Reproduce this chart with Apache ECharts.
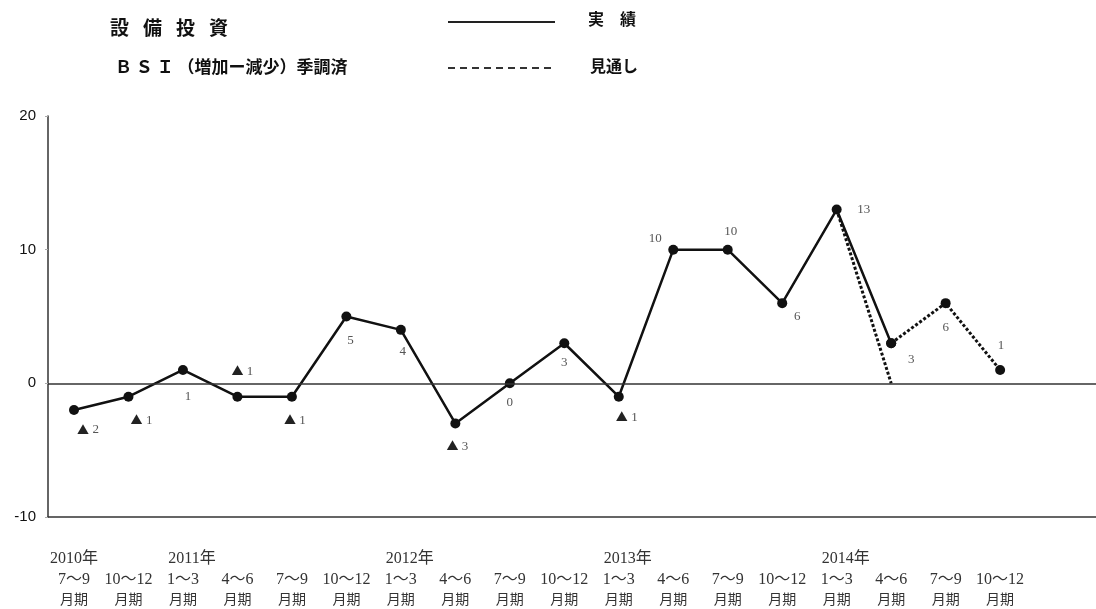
<!DOCTYPE html>
<html>
<head>
<meta charset="utf-8">
<script src="https://cdn.jsdelivr.net/npm/echarts@6/dist/echarts.min.js"></script>
<style>
  html, body { margin: 0; padding: 0; background: #fff; }
  #chart { width: 1096px; height: 609px; }
</style>
</head>
<body>
<div id="chart"></div>
<script>
// 設備投資 BSI（増加ー減少）季調済 — quarterly survey results
const yearMarks = ['2010年', '', '2011年', '', '', '', '2012年', '', '', '', '2013年', '', '', '', '2014年', '', '', ''];
const periods = ['7〜9', '10〜12', '1〜3', '4〜6', '7〜9', '10〜12', '1〜3', '4〜6', '7〜9', '10〜12',
                 '1〜3', '4〜6', '7〜9', '10〜12', '1〜3', '4〜6', '7〜9', '10〜12'];
const periodUnit = '月期';

// 実績 (actual)
const actual = [-2, -1, 1, -1, -1, 5, 4, -3, 0, 3, -1, 10, 10, 6, 13, 3, null, null];
// 見通し made in the previous survey (2014 1〜3 → 4〜6)
const prevOutlook = [null, null, null, null, null, null, null, null, null, null, null, null, null, null, 13, 0, null, null];
// 見通し (outlook from the latest survey)
const outlook = [null, null, null, null, null, null, null, null, null, null, null, null, null, null, null, 3, 6, 1];

const yMin = -10, yMax = 20, yStep = 10;

// where each value label sits relative to its point [dx, dy]
const actualLabelOffset = [
  [14, 20], [13, 24], [5, 27], [5, -25], [3, 24], [4, 24], [2, 22], [2, 23], [0, 19],
  [0, 19], [8, 21], [-18, -11], [3, -18], [15, 13], [27, 0], [20, 16], [0, 0], [0, 0]
];
const outlookLabelOffset = { 16: [0, 24], 17: [1, -24] };

const serifFont = '"Liberation Serif", "DejaVu Serif", "Noto Sans CJK JP", serif';
const gothicFont = '"Noto Sans CJK JP", sans-serif';

function valueLabel(v) {
  if (v < 0) return '{t|▲} {n|' + Math.abs(v) + '}';
  return '{n|' + v + '}';
}

const labelRich = {
  t: { fontSize: 12, color: '#222', fontFamily: gothicFont },
  n: { fontSize: 13, color: '#555', fontFamily: serifFont }
};

function pointsFrom(arr, offsets) {
  const out = [];
  arr.forEach((v, i) => {
    if (v === null) return;
    const item = { value: [i, v] };
    const off = offsets ? offsets[i] : null;
    if (off) {
      item.label = { show: true, offset: off };
    } else {
      item.label = { show: false };
    }
    out.push(item);
  });
  return out;
}

const chart = echarts.init(document.getElementById('chart'), null, { renderer: 'canvas' });

const option = {
  backgroundColor: '#fff',
  animation: false,
  grid: { left: 48, right: 0, top: 116, bottom: 92, containLabel: false },
  xAxis: {
    type: 'value',
    min: -0.477,
    max: 18.76,
    splitLine: { show: false },
    axisLine: { show: true, onZero: false, lineStyle: { color: '#333', width: 1.5 } },
    axisTick: { show: false },
    axisLabel: {
      show: true,
      customValues: periods.map((_, i) => i),
      margin: 31,
      formatter: function (v) {
        const i = Math.round(v);
        const y = yearMarks[i];
        const yearPart = y ? (i === 0 ? '{y|' + y + '}' : '{ys|' + y + '}') : '{y|\u3000}';
        return yearPart + '\n{p|' + periods[i] + '}\n{m|' + periodUnit + '}';
      },
      rich: {
        y: { fontSize: 16, lineHeight: 21, color: '#333', fontFamily: serifFont },
        ys: { fontSize: 16, lineHeight: 21, color: '#333', fontFamily: serifFont, padding: [0, 0, 0, 18] },
        p: { fontSize: 16, lineHeight: 21, color: '#333', fontFamily: serifFont },
        m: { fontSize: 14, lineHeight: 21, color: '#333', fontFamily: serifFont }
      }
    }
  },
  yAxis: {
    type: 'value',
    min: yMin,
    max: yMax,
    interval: yStep,
    splitLine: { show: false },
    axisLine: { show: true, onZero: false, lineStyle: { color: '#333', width: 1.5 } },
    axisTick: { show: true, length: 3, lineStyle: { color: '#aaa' } },
    axisLabel: { fontSize: 15, color: '#111', margin: 12, fontFamily: '"Liberation Sans", Arial, sans-serif' }
  },
  graphic: [
    {
      type: 'text', left: 110, top: 18,
      style: {
        text: '{a|設}{a|備}{a|投}{a|資}',
        rich: { a: { fontSize: 19, fontWeight: 'bold', fontFamily: gothicFont, fill: '#111', padding: [0, 14, 0, 0] } }
      }
    },
    {
      type: 'text', left: 115, top: 58,
      style: { text: 'Ｂ Ｓ Ｉ （増加ー減少）季調済', fontSize: 17, fontWeight: 'bold', fontFamily: gothicFont, fill: '#111' }
    },
    {
      type: 'line', shape: { x1: 448, y1: 22, x2: 555, y2: 22 },
      style: { stroke: '#222', lineWidth: 2 }
    },
    {
      type: 'line', shape: { x1: 448, y1: 68, x2: 552, y2: 68 },
      style: { stroke: '#333', lineWidth: 2, lineDash: [7, 5] }
    },
    {
      type: 'text', left: 588, top: 11,
      style: { text: '実　績', fontSize: 16, fontWeight: 'bold', fontFamily: gothicFont, fill: '#111' }
    },
    {
      type: 'text', left: 590, top: 58,
      style: { text: '見通し', fontSize: 16, fontWeight: 'bold', fontFamily: gothicFont, fill: '#111' }
    }
  ],
  series: [
    {
      name: '見通し（前回）',
      type: 'line',
      data: pointsFrom(prevOutlook, null),
      showSymbol: false,
      symbol: 'none',
      lineStyle: { color: '#111', width: 3, type: [3, 2] },
      z: 2
    },
    {
      name: '見通し',
      type: 'line',
      data: pointsFrom(outlook, outlookLabelOffset),
      symbol: 'circle',
      symbolSize: 10,
      itemStyle: { color: '#111' },
      lineStyle: { color: '#111', width: 3, type: [3, 2] },
      label: {
        show: true, position: 'inside', align: 'center', verticalAlign: 'middle',
        formatter: p => valueLabel(p.value[1]), rich: labelRich
      },
      z: 3
    },
    {
      name: '実績',
      type: 'line',
      data: pointsFrom(actual, actualLabelOffset),
      symbol: 'circle',
      symbolSize: 10,
      itemStyle: { color: '#111' },
      lineStyle: { color: '#111', width: 2.5 },
      label: {
        show: true, position: 'inside', align: 'center', verticalAlign: 'middle',
        formatter: p => valueLabel(p.value[1]), rich: labelRich
      },
      markLine: {
        silent: true,
        symbol: 'none',
        label: { show: false },
        lineStyle: { color: '#333', width: 1.5, type: 'solid' },
        data: [{ yAxis: 0 }]
      },
      z: 4
    }
  ]
};

chart.setOption(option);
</script>
</body>
</html>
